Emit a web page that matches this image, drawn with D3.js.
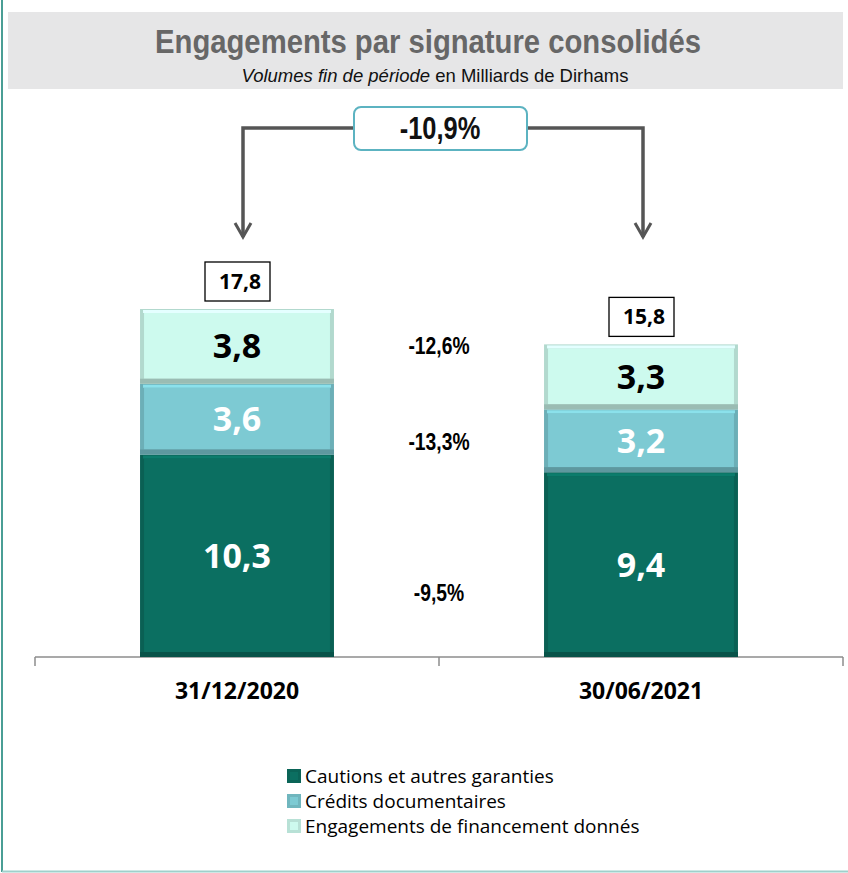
<!DOCTYPE html>
<html>
<head>
<meta charset="utf-8">
<script src="https://cdn.jsdelivr.net/npm/d3@7"></script>
<style>
  body { margin: 0; background: #fff; }
  svg { display: block; }
  .narrow { font-family: "Liberation Sans", Arial, sans-serif; }
  .calib { font-family: "Open Sans", "Noto Sans", sans-serif; }
</style>
</head>
<body>
<div id="chart"></div>
<script>
// Data
const dates = ["31/12/2020", "30/06/2021"];
const seriesNames = ["Cautions et autres garanties", "Crédits documentaires", "Engagements de financement donnés"];
const cautions = [10.3, 9.4];
const credits = [3.6, 3.2];
const financement = [3.8, 3.3];
const totals = ["17,8", "15,8"];
const variations = ["-9,5%", "-13,3%", "-12,6%"];
const totalVariation = "-10,9%";

const colors = ["#0b6f61", "#7dcad3", "#cdfaee"];
const labelColors = ["#fff", "#fff", "#000"];

const width = 848, height = 873;
const padding = {top: 309, right: 5, bottom: 216, left: 35};

const svg = d3.select("#chart").append("svg")
    .attr("width", width)
    .attr("height", height);

// squeeze a text horizontally, like Arial Narrow
function narrow(sel, factor) {
    sel.each(function() {
        const w = this.getComputedTextLength();
        d3.select(this).attr("textLength", w * factor).attr("lengthAdjust", "spacingAndGlyphs");
    });
    return sel;
}

// Frame
svg.append("line").attr("x1", 2).attr("x2", 2).attr("y1", 0).attr("y2", 872)
    .attr("stroke", "#4a9e95").attr("stroke-width", 2);
svg.append("line").attr("x1", 2).attr("x2", 848).attr("y1", 871.5).attr("y2", 871.5)
    .attr("stroke", "#9fd0cb").attr("stroke-width", 2);

// Title band
svg.append("rect").attr("x", 8).attr("y", 12).attr("width", 835).attr("height", 77).attr("fill", "#e6e6e7");
svg.append("text").attr("class", "narrow")
    .attr("x", 428).attr("y", 53)
    .attr("text-anchor", "middle")
    .style("font-size", "34px").style("font-weight", "bold").attr("fill", "#676767")
    .text("Engagements par signature consolidés")
    .call(narrow, 0.86);
const sub = svg.append("text").attr("class", "narrow")
    .attr("x", 435).attr("y", 82)
    .attr("text-anchor", "middle")
    .style("font-size", "18.5px").attr("fill", "#111");
sub.append("tspan").style("font-style", "italic").text("Volumes fin de période");
sub.append("tspan").text(" en Milliards de Dirhams");

// Stack the data
const rows = dates.map((d, i) => ({date: d, s0: cautions[i], s1: credits[i], s2: financement[i]}));
const stacked = d3.stack().keys(["s0", "s1", "s2"])(rows);

// Scales
const xScale = d3.scaleBand()
    .domain(dates)
    .range([padding.left, width - padding.right])
    .paddingInner(0.52)
    .paddingOuter(0.26);
const yScale = d3.scaleLinear()
    .domain([0, d3.max(rows, r => r.s0 + r.s1 + r.s2)])
    .range([height - padding.bottom, padding.top]);

// Axis
const axisY = height - padding.bottom;
const axis = svg.append("g")
    .attr("transform", "translate(0," + axisY + ")")
    .call(d3.axisBottom(xScale).tickSize(0).tickFormat(""));
axis.select(".domain").remove();
axis.append("line")
    .attr("x1", padding.left).attr("x2", width - padding.right)
    .attr("stroke", "#8c8c8c").attr("stroke-width", 1.5);
[0, 1, 2].forEach(k => {
    const tx = padding.left + k * (width - padding.right - padding.left) / 2;
    axis.append("line").attr("x1", tx).attr("x2", tx).attr("y1", 0).attr("y2", 9)
        .attr("stroke", "#8c8c8c").attr("stroke-width", 1.5);
});

svg.selectAll(".cat")
    .data(dates)
    .enter().append("text")
    .attr("class", "cat calib")
    .attr("x", d => xScale(d) + xScale.bandwidth() / 2)
    .attr("y", axisY + 42)
    .attr("text-anchor", "middle")
    .style("font-size", "23px").style("font-weight", "bold").attr("fill", "#000")
    .text(d => d);

// Bars with a bevel look
const bw = xScale.bandwidth();
stacked.forEach((layer, li) => {
    const g = svg.append("g");
    layer.forEach(seg => {
        const x = xScale(seg.data.date);
        const y0 = yScale(seg[1]);
        const h = yScale(seg[0]) - yScale(seg[1]);
        const base = d3.color(colors[li]);
        g.append("rect").attr("x", x).attr("y", y0).attr("width", bw).attr("height", h)
            .attr("fill", base.darker(0.4));
        g.append("rect").attr("x", x + 4).attr("y", y0 + 4).attr("width", bw - 8).attr("height", h - 9)
            .attr("fill", base);
        g.append("rect").attr("x", x + 3).attr("y", y0 + 1).attr("width", bw - 6).attr("height", 3)
            .attr("fill", base.brighter(0.3));
        g.append("rect").attr("x", x).attr("y", y0 + h - 5).attr("width", bw).attr("height", 5)
            .attr("fill", base.darker(0.8));
        g.append("text").attr("class", "calib")
            .attr("x", x + bw / 2)
            .attr("y", y0 + h / 2 + 12)
            .attr("text-anchor", "middle")
            .style("font-size", "34px").style("font-weight", "bold")
            .attr("fill", labelColors[li])
            .text(String(seg.data["s" + li]).replace(".", ","));
    });
});

// Total boxes
rows.forEach((r, i) => {
    const cx = xScale(r.date) + bw / 2;
    const top = yScale(r.s0 + r.s1 + r.s2);
    svg.append("rect").attr("x", cx - 32).attr("y", top - 47).attr("width", 65).attr("height", 39)
        .attr("fill", "#fff").attr("stroke", "#000").attr("stroke-width", 1.3);
    svg.append("text").attr("class", "calib")
        .attr("x", cx + 3).attr("y", top - 20)
        .attr("text-anchor", "middle")
        .style("font-size", "21px").style("font-weight", "bold").attr("fill", "#000")
        .text(totals[i]);
});

// Variation labels between bars (next to each segment of the first bar)
const midX = padding.left + (width - padding.right - padding.left) / 2;
stacked.forEach((layer, li) => {
    const seg = layer[0];
    svg.append("text").attr("class", "narrow")
        .attr("x", midX)
        .attr("y", (yScale(seg[0]) + yScale(seg[1])) / 2 + [45, 31, 8][li])
        .attr("text-anchor", "middle")
        .style("font-size", "23.5px").style("font-weight", "bold").attr("fill", "#000")
        .text(variations[li])
        .call(narrow, 0.82);
});

// Overall variation connector
const xa = xScale(dates[0]) + bw / 2 + 6, xb = xScale(dates[1]) + bw / 2 + 2;
const lineY = 128, arrowY = 237;
svg.append("path")
    .attr("d", `M${xa},${arrowY} V${lineY} H${xb} V${arrowY}`)
    .attr("fill", "none").attr("stroke", "#555").attr("stroke-width", 3.5);
[xa, xb].forEach(ax => {
    svg.append("path")
        .attr("d", `M${ax - 8},${arrowY - 14} L${ax},${arrowY} L${ax + 8},${arrowY - 14}`)
        .attr("fill", "none").attr("stroke", "#555").attr("stroke-width", 3);
});
svg.append("rect").attr("x", 354).attr("y", 107).attr("width", 173).attr("height", 43)
    .attr("rx", 7).attr("fill", "#fff").attr("stroke", "#5cb3c1").attr("stroke-width", 2);
svg.append("text").attr("class", "narrow")
    .attr("x", 440).attr("y", 139)
    .attr("text-anchor", "middle")
    .style("font-size", "31px").style("font-weight", "bold").attr("fill", "#111")
    .text(totalVariation)
    .call(narrow, 0.82);

// Legend
const legend = svg.append("g").attr("transform", "translate(287,769)");
seriesNames.forEach((name, i) => {
    const row = legend.append("g").attr("transform", "translate(0," + i * 25 + ")");
    row.append("rect").attr("width", 14).attr("height", 14).attr("fill", d3.color(colors[i]).darker(0.3));
    row.append("rect").attr("x", 3).attr("y", 3).attr("width", 8).attr("height", 8).attr("fill", colors[i]);
    row.append("text").attr("class", "calib")
        .attr("x", 18).attr("y", 14)
        .style("font-size", "19px").attr("fill", "#000")
        .text(name);
});
</script>
</body>
</html>
